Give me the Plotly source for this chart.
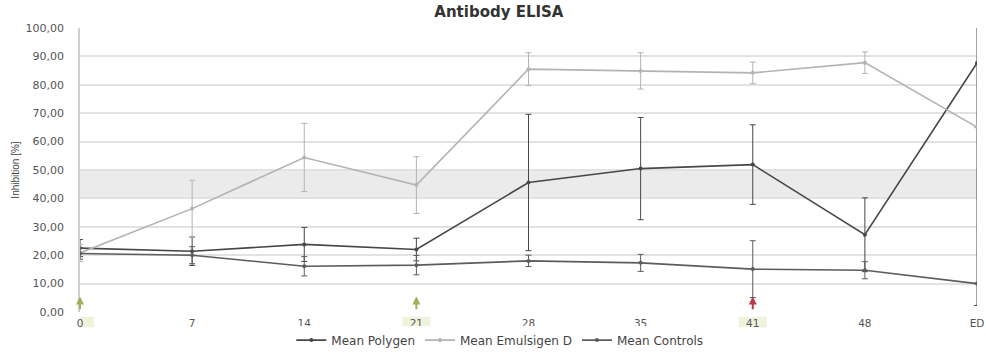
import plotly.graph_objects as go

categories = ["0", "7", "14", "21", "28", "35", "41", "48", "ED"]

polygen = [22.5, 21.4, 23.8, 22.0, 45.6, 50.5, 51.9, 27.2, 87.7]
polygen_err = [3.0, 5.0, 6.0, 4.0, 24.0, 18.0, 14.0, 13.0, 85.4]

emulsigen = [20.8, 36.4, 54.4, 44.7, 85.5, 84.9, 84.2, 87.8, 65.1]
emulsigen_err = [3.0, 10.0, 12.0, 10.0, 5.8, 6.4, 3.8, 3.8, 0.0]

controls = [20.6, 20.0, 16.1, 16.5, 18.0, 17.3, 15.1, 14.7, 10.0]
controls_err = [2.0, 3.0, 3.4, 3.4, 2.0, 3.0, 10.0, 3.0, 0.0]

band = [40, 50]
arrow_idx = [0, 3, 6]
arrow_colors = ["#9fb05c", "#9fb05c", "#b53a4a"]

series = [
    ("Mean Polygen", polygen, polygen_err, "#474747"),
    ("Mean Emulsigen D", emulsigen, emulsigen_err, "#b3b3b3"),
    ("Mean Controls", controls, controls_err, "#5c5c5c"),
]

FONT = "DejaVu Sans, Verdana, sans-serif"

fig = go.Figure()
for name, vals, errs, col in series:
    fig.add_trace(go.Scatter(
        x=categories, y=vals, name=name, mode="lines+markers",
        line=dict(color=col, width=1.6),
        marker=dict(color=col, size=4),
        error_y=dict(type="data", array=errs, visible=True, color=col,
                     thickness=1, width=3),
    ))

fig.add_shape(type="rect", xref="paper", yref="y", x0=0, x1=1,
              y0=band[0], y1=band[1], fillcolor="#ebebeb", line_width=0,
              layer="below")

for i, col in zip(arrow_idx, arrow_colors):
    fig.add_annotation(x=i, y=5.5, xref="x", yref="y", ax=i, ay=0.4,
                       axref="x", ayref="y", showarrow=True, arrowhead=2,
                       arrowsize=0.8, arrowwidth=2, arrowcolor=col, text="")
    fig.add_shape(type="rect", xref="x", yref="paper",
                  x0=i - 0.125, x1=i + 0.125, y0=-0.017, y1=-0.054,
                  fillcolor="#eff3dc", line_width=0, layer="below")

fig.update_layout(
    width=986, height=352,
    margin=dict(l=80, r=9, t=28, b=40, autoexpand=False),
    paper_bgcolor="white", plot_bgcolor="white",
    separators=",.",
    title=dict(text="<b>Antibody ELISA</b>", x=0.467, xref="paper", xanchor="center",
               y=0.967, yanchor="middle",
               font=dict(family=FONT, size=15, color="#333")),
    font=dict(family=FONT, size=10, color="#555"),
    showlegend=True,
    legend=dict(orientation="h", x=0.468, xanchor="center", y=-0.099,
                yanchor="middle", font=dict(family=FONT, size=12, color="#444"),
                itemwidth=30, tracegroupgap=0),
    xaxis=dict(type="category", range=[0, 8], showgrid=False,
               showline=False, ticks="", tickfont=dict(size=10.5, color="#555"),
               zeroline=False, automargin=False, ticklabelstandoff=3),
    yaxis=dict(range=[0, 100], dtick=10, tickformat=".2f",
               showgrid=True, gridcolor="#e2e2e2", gridwidth=1.6,
               showline=True, linecolor="#d0d0d0", linewidth=1.5,
               zeroline=False, ticks="", automargin=False,
               ticklabelstandoff=12,
               title=dict(text="Inhibition [%]", standoff=4,
                          font=dict(family="Liberation Sans, Arial", size=10, color="#444")),
               tickfont=dict(size=11, color="#555")),
)

fig.write_html("out.html", config={"displayModeBar": False},
               post_script="document.body.style.margin='0';document.body.style.overflow='hidden';")
